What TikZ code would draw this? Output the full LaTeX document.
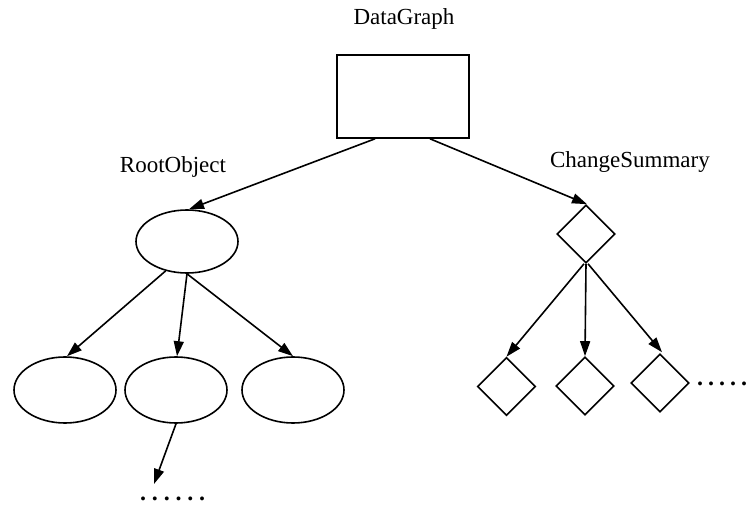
\documentclass[tikz,border=0pt]{standalone}
\usepackage{fontspec}
\setmainfont{Liberation Serif}
\usetikzlibrary{shapes.geometric,arrows.meta}
\newcommand\dotcell[1]{\makebox[#1][c]{.}}
\tikzset{
  base/.style={draw=black, line width=1.6pt, inner sep=0pt},
  rectbox/.style={base, rectangle, minimum width=132pt, minimum height=83pt},
  ellbox/.style={base, ellipse, minimum width=102pt, minimum height=66pt},
  diabox/.style={base, diamond, minimum width=58pt, minimum height=58pt},
  lbl/.style={inner sep=0pt, anchor=base, font=\fontsize{23}{27}\selectfont},
  dotstxt/.style={inner sep=0pt, anchor=base west, font=\fontsize{24}{27}\selectfont\bfseries},
  conn/.style={line width=1.6pt, -{Triangle[length=15pt,width=10pt]}}
}
\begin{document}
\begin{tikzpicture}[x=1pt,y=-1pt]
\useasboundingbox (0,0) rectangle (750,505);
% nodes
\node[rectbox] (dg) at (403,96.5) {};
\node[lbl] (dgl) at (404,25) {DataGraph};
\node[ellbox, minimum height=63pt] (root) at (187,241.5) {};
\node[lbl] (rootl) at (173,173) {RootObject};
\node[ellbox] (e1) at (65,390) {};
\node[ellbox] (e2) at (176,390) {};
\node[ellbox] (e3) at (293,390) {};
\node[diabox] (cs) at (586,234) {};
\node[lbl] (csl) at (630,168) {ChangeSummary};
\node[diabox] (d1) at (506.5,386.5) {};
\node[diabox] (d2) at (585,386) {};
\node[diabox] (d3) at (660,383) {};
\coordinate (more) at (154,484);
\node[dotstxt] (dots1) at (137.1,500.5) {\dotcell{11.8pt}\dotcell{11.8pt}\dotcell{11.8pt}\dotcell{11.8pt}\dotcell{11.8pt}\dotcell{11.8pt}};
\node[dotstxt] (dots2) at (694.5,385.5) {\dotcell{11pt}\dotcell{11pt}\dotcell{11pt}\dotcell{11pt}\dotcell{11pt}};
% connectors
\draw[conn] ([xshift=-28pt]dg.south) -- ([xshift=2pt]root.north);
\draw[conn] ([xshift=27pt]dg.south) -- ([xshift=1pt]cs.north);
\draw[conn] (root.234) -- ([xshift=2pt]e1.north);
\draw[conn] (root.south) -- ([xshift=1pt]e2.north);
\draw[conn] (root.south) -- (e3.north);
\draw[conn] (e2.south) -- (more);
\draw[conn] ([xshift=-2pt]cs.south) -- (d1.north);
\draw[conn] (cs.south) -- (d2.north);
\draw[conn] ([xshift=2pt]cs.south) -- ([xshift=2pt,yshift=1pt]d3.north);
\end{tikzpicture}
\end{document}
